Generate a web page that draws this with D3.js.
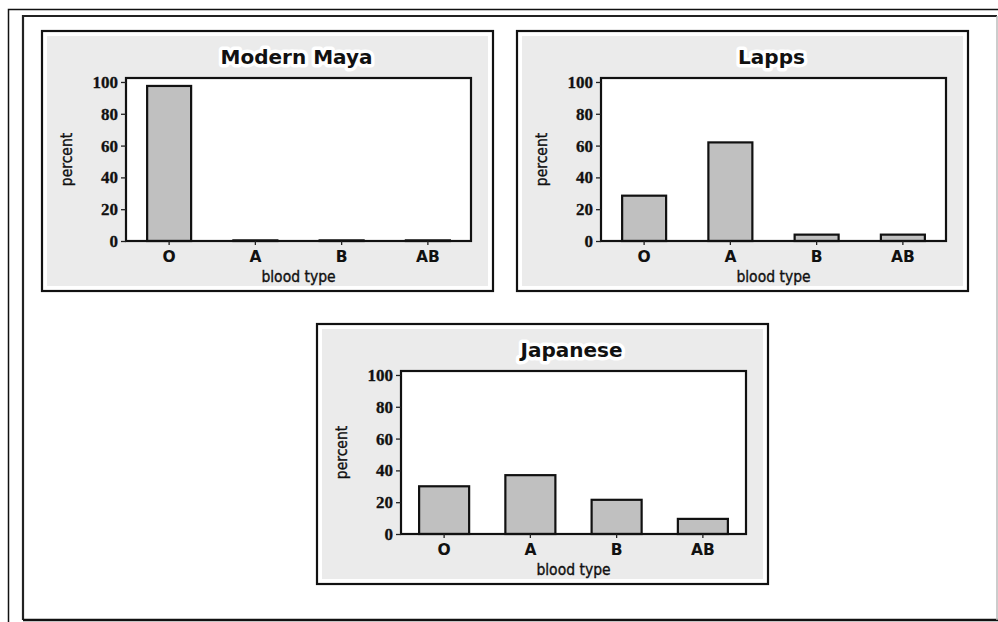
<!DOCTYPE html>
<html><head><meta charset="utf-8">
<script src="https://cdn.jsdelivr.net/npm/d3@7"></script>
<style>
html,body{margin:0;padding:0;background:#fff;}
svg{display:block;}
</style></head>
<body>
<svg id="c" width="998" height="622"></svg>
<script>
// ---- data ----
const categories = ["O", "A", "B", "AB"];
const panelTitles = ["Modern Maya", "Lapps", "Japanese"];
const mayaValues = [97.5, 0.4, 0.4, 0.4];
const lappsValues = [28.5, 62, 4, 4];
const japaneseValues = [30, 37, 21.5, 9.5];
const yTicks = [0, 20, 40, 60, 80, 100];
const xLabel = "blood type";
const yLabel = "percent";

const seriesList = [mayaValues, lappsValues, japaneseValues];

// ---- layout ----
const svg = d3.select("#c");
const panelPos = [[42, 31], [517, 31], [317, 324]];
const barPad = [0.49, 0.49, 0.42];
const PW = 451, PH = 260;
const m = {left: 84, top: 47, right: 22, bottom: 50};

// outer frames
svg.append("rect").attr("x", 8.5).attr("y", 9.5).attr("width", 995).attr("height", 620)
  .attr("fill", "none").attr("stroke", "#111").attr("stroke-width", 1.5);
svg.append("path").attr("d", "M23,620 L23,16 L997,16").attr("fill", "none")
  .attr("stroke", "#222").attr("stroke-width", 2.2);
svg.append("line").attr("x1", 23).attr("x2", 998).attr("y1", 620).attr("y2", 620)
  .attr("stroke", "#111").attr("stroke-width", 2.5);
svg.append("line").attr("x1", 997).attr("x2", 997).attr("y1", 16).attr("y2", 620)
  .attr("stroke", "#bbb").attr("stroke-width", 1.5);

seriesList.forEach((vals, i) => {
  const [px, py] = panelPos[i];
  const g = svg.append("g").attr("transform", `translate(${px},${py})`);
  g.append("rect").attr("x", 0).attr("y", 0).attr("width", PW).attr("height", PH)
    .attr("fill", "#fff").attr("stroke", "#111").attr("stroke-width", 2.2);
  g.append("rect").attr("x", 5).attr("y", 5).attr("width", PW - 10).attr("height", PH - 10)
    .attr("fill", "#ebebeb");

  const w = PW - m.left - m.right, h = PH - m.top - m.bottom;
  const pg = g.append("g").attr("transform", `translate(${m.left},${m.top})`);

  const x = d3.scaleBand().domain(categories).range([0, w])
    .paddingInner(barPad[i]).paddingOuter(barPad[i] / 2);
  const y = d3.scaleLinear().domain([0, 102.5]).range([h, 0]);

  pg.append("rect").attr("x", 0).attr("y", 0).attr("width", w).attr("height", h).attr("fill", "#fff");

  pg.selectAll("rect.bar").data(vals).join("rect").attr("class", "bar")
    .attr("x", (d, j) => x(categories[j]))
    .attr("y", d => y(d))
    .attr("width", x.bandwidth())
    .attr("height", d => y(0) - y(d))
    .attr("fill", "#c0c0c0").attr("stroke", "#111").attr("stroke-width", 2.2);

  pg.append("rect").attr("x", 0).attr("y", 0).attr("width", w).attr("height", h)
    .attr("fill", "none").attr("stroke", "#111").attr("stroke-width", 2.2);

  const ya = pg.append("g").call(d3.axisLeft(y).tickValues(yTicks).tickSize(5).tickPadding(3));
  ya.select(".domain").remove();
  ya.selectAll("line").attr("stroke", "#222").attr("stroke-width", 1.3);
  ya.selectAll("text").attr("font-family", "'Liberation Serif', serif").attr("font-weight", "bold")
    .attr("font-size", 17).attr("fill", "#111").attr("stroke", "#111").attr("stroke-width", 0.3);

  const xa = pg.append("g").attr("transform", `translate(0,${h})`)
    .call(d3.axisBottom(x).tickSize(4).tickPadding(6));
  xa.select(".domain").remove();
  xa.selectAll("line").attr("stroke", "#222").attr("stroke-width", 1.3);
  xa.selectAll("text").attr("font-family", "'DejaVu Sans', sans-serif").attr("font-weight", "bold")
    .attr("font-size", 15.5).attr("fill", "#111");

  g.append("text").attr("x", m.left + w / 2 - 2).attr("y", 33).attr("text-anchor", "middle")
    .attr("font-family", "'DejaVu Sans', sans-serif").attr("font-weight", "bold").attr("font-size", 20)
    .attr("fill", "#111").attr("stroke", "#fff").attr("stroke-width", 7).attr("stroke-linejoin", "round")
    .attr("paint-order", "stroke").text(panelTitles[i]);

  g.append("text").attr("x", m.left + w / 2).attr("y", m.top + h + 41).attr("text-anchor", "middle")
    .attr("font-family", "'DejaVu Sans Condensed', 'DejaVu Sans', sans-serif").attr("font-size", 15.5)
    .attr("fill", "#111").attr("stroke", "#111").attr("stroke-width", 0.35)
    .text(xLabel);

  g.append("text").attr("transform", `translate(${m.left - 54},${m.top + h / 2}) rotate(-90)`)
    .attr("text-anchor", "middle")
    .attr("font-family", "'DejaVu Sans Condensed', 'DejaVu Sans', sans-serif").attr("font-size", 15.5)
    .attr("fill", "#111").attr("stroke", "#111").attr("stroke-width", 0.35)
    .text(yLabel);
});
</script>
</body></html>
